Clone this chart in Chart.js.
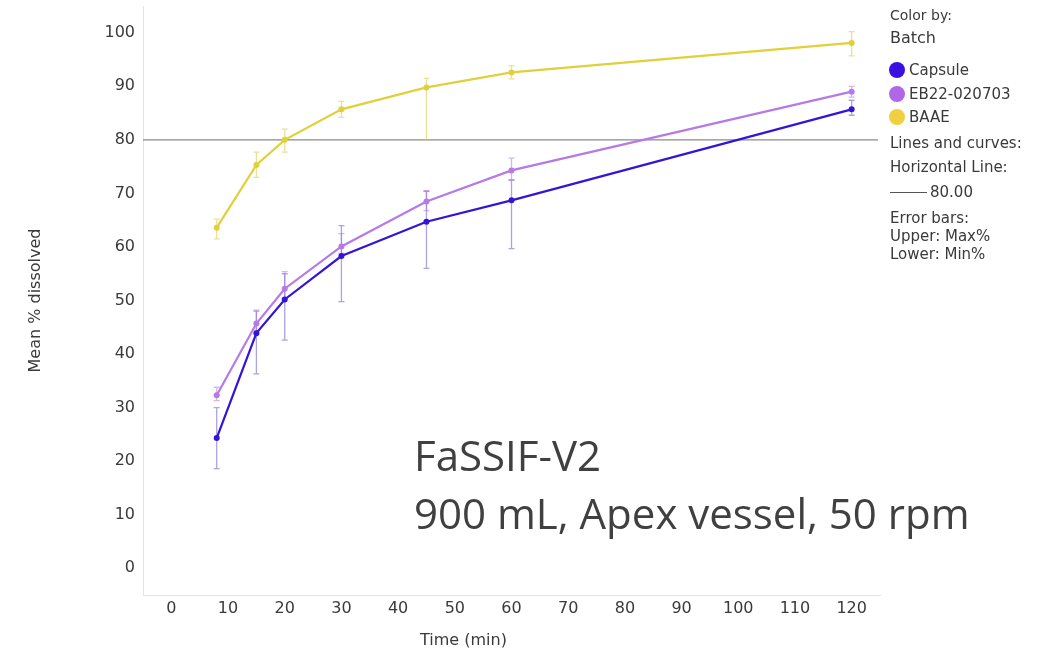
<!DOCTYPE html>
<html>
<head>
<meta charset="utf-8">
<script src="https://cdn.jsdelivr.net/npm/chart.js@4"></script>
<style>
  body { margin: 0; background: #fff; }
  #wrap { position: relative; width: 1037px; height: 650px; font-family: "DejaVu Sans", sans-serif; color: #3a3a3a; }
  #legend div { position: absolute; white-space: nowrap; line-height: 18px; }
  .dot { display: inline-block; width: 16px; height: 16px; border-radius: 50%; vertical-align: -3px; margin-right: 4px; }
  .note { position: absolute; left: 414px; font-family: "Open Sans", sans-serif; font-size: 42px; color: #404040; white-space: nowrap; }
  #xTitle { position: absolute; left: 420px; top: 630px; font-size: 16px; line-height: 20px; white-space: nowrap; }
</style>
</head>
<body>
<div id="wrap">
  <canvas id="lineChart" width="1037" height="650"></canvas>
  <div id="legend"></div>
  <div class="note" style="top:426px">FaSSIF-V2</div>
  <div class="note" style="top:484px">900 mL, Apex vessel, 50 rpm</div>
  <div id="xTitle">Time (min)</div>
</div>
<script>
var times = [8, 15, 20, 30, 45, 60, 120];

var capsule = [24.3, 43.9, 50.2, 58.3, 64.7, 68.7, 85.7];
var capsuleMax = [30.0, 48.0, 55.0, 64.0, 70.4, 72.5, 87.4];
var capsuleMin = [18.6, 36.3, 42.6, 49.8, 56.0, 59.7, 84.6];

var eb22 = [32.3, 45.7, 52.2, 60.1, 68.5, 74.3, 89.0];
var eb22Max = [33.8, 48.2, 55.4, 62.5, 70.5, 76.6, 90.0];
var eb22Min = [31.3, 44.3, 50.5, 58.8, 66.8, 72.5, 88.0];

var baae = [63.6, 75.3, 80.0, 85.7, 89.8, 92.6, 98.1];
var baaeMax = [65.2, 77.7, 82.0, 87.2, 91.5, 93.8, 100.2];
var baaeMin = [61.5, 73.0, 77.7, 84.2, 80.0, 91.4, 95.7];

var xTicks = [0, 10, 20, 30, 40, 50, 60, 70, 80, 90, 100, 110, 120];
var yTicks = [0, 10, 20, 30, 40, 50, 60, 70, 80, 90, 100];
var hLine = 80;

var series = [
  { label: "Capsule", values: capsule, max: capsuleMax, min: capsuleMin, color: "#3514d8", dot: "#3a10e0", err: "rgba(70,50,200,0.45)" },
  { label: "EB22-020703", values: eb22, max: eb22Max, min: eb22Min, color: "#b57ae6", dot: "#b068e8", err: "rgba(170,110,220,0.5)" },
  { label: "BAAE", values: baae, max: baaeMax, min: baaeMin, color: "#e0d03a", dot: "#f0d040", err: "rgba(215,200,60,0.55)" },
];

// legend drawn as html text on the right
var legend = document.getElementById("legend");
var rows = [
  [890, 6, "Color by:", 14],
  [890, 29, "Batch", 16],
  [890, 134, "Lines and curves:", 15],
  [890, 158, "Horizontal Line:", 15],
  [890, 183, '<span style="display:inline-block;width:37px;border-top:1px solid #555;vertical-align:4px;margin-right:3px"></span>80.00', 15],
  [890, 209, "Error bars:", 15],
  [890, 227, "Upper: Max%", 15],
  [890, 245, "Lower: Min%", 15],
];
series.forEach(function (s, i) {
  rows.push([889, 61 + i * 23.5, '<span class="dot" style="background:' + s.dot + '"></span>' + s.label, 15]);
});
rows.forEach(function (r) {
  var d = document.createElement("div");
  d.style.left = r[0] + "px";
  d.style.top = r[1] + "px";
  d.style.fontSize = r[3] + "px";
  d.innerHTML = r[2];
  legend.appendChild(d);
});

var errorBars = {
  id: "errorBars",
  beforeDatasetsDraw: function (chart) {
    var ctx = chart.ctx;
    var x = chart.scales.x, y = chart.scales.y;
    ctx.save();
    // horizontal reference line
    var yy = y.getPixelForValue(hLine);
    ctx.strokeStyle = "#8a8a8a";
    ctx.lineWidth = 1.2;
    ctx.beginPath();
    ctx.moveTo(chart.chartArea.left, yy);
    ctx.lineTo(chart.chartArea.right - 2, yy);
    ctx.stroke();
    series.forEach(function (s) {
      ctx.strokeStyle = s.err;
      ctx.lineWidth = 1.3;
      times.forEach(function (t, i) {
        var px = x.getPixelForValue(t);
        var top = y.getPixelForValue(s.max[i]);
        var bot = y.getPixelForValue(s.min[i]);
        ctx.beginPath();
        ctx.moveTo(px, top);
        ctx.lineTo(px, bot);
        ctx.moveTo(px - 3, top);
        ctx.lineTo(px + 3, top);
        ctx.moveTo(px - 3, bot);
        ctx.lineTo(px + 3, bot);
        ctx.stroke();
      });
    });
    ctx.restore();
  },
};

var tickFont = { family: "DejaVu Sans", size: 16 };

var ctx = document.getElementById("lineChart").getContext("2d");
var chart = new Chart(ctx, {
  type: "line",
  data: {
    datasets: series.map(function (s) {
      return {
        label: s.label,
        data: times.map(function (t, i) { return { x: t, y: s.values[i] }; }),
        borderColor: s.color,
        backgroundColor: s.color,
        borderWidth: 2.2,
        pointRadius: 3,
        pointBorderWidth: 0,
        tension: 0,
      };
    }),
  },
  plugins: [errorBars],
  options: {
    responsive: false,
    animation: false,
    layout: { padding: { left: 20, right: 157, top: 6, bottom: 0 } },
    plugins: { legend: { display: false }, tooltip: { enabled: false } },
    scales: {
      x: {
        type: "linear",
        min: -5,
        max: 125,
        afterBuildTicks: function (axis) { axis.ticks = xTicks.map(function (v) { return { value: v }; }); },
        afterFit: function (axis) { axis.height = 55; axis.paddingLeft = 0; axis.paddingRight = 0; },
        grid: { drawOnChartArea: false, drawTicks: false, color: "transparent" },
        border: { display: true, color: "#e3e3e3", width: 1 },
        ticks: { font: tickFont, color: "#3a3a3a", padding: 4, maxRotation: 0 },
      },
      y: {
        min: -5,
        max: 105,
        afterBuildTicks: function (axis) { axis.ticks = yTicks.map(function (v) { return { value: v }; }); },
        afterFit: function (axis) { axis.width = 123; axis.paddingTop = 0; axis.paddingBottom = 0; },
        grid: { drawOnChartArea: false, drawTicks: false, color: "transparent" },
        border: { display: true, color: "#e3e3e3", width: 1 },
        ticks: { font: tickFont, color: "#3a3a3a", padding: 8 },
        title: { display: true, text: "Mean % dissolved", font: { family: "DejaVu Sans", size: 16 }, color: "#3a3a3a", padding: { top: 6, bottom: 0 } },
      },
    },
  },
});
</script>
</body>
</html>
